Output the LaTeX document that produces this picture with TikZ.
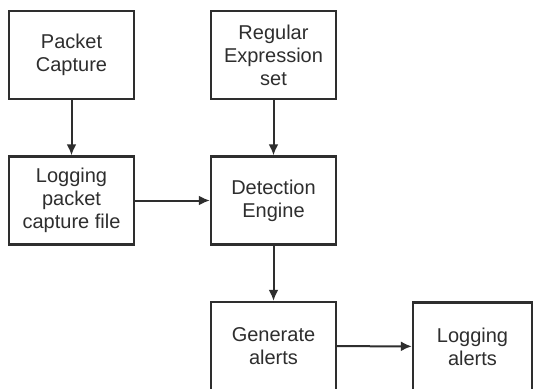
\documentclass[tikz,border=0pt]{standalone}
\usepackage{fontspec}
\setmainfont{Liberation Sans}
\usetikzlibrary{arrows.meta}
\definecolor{ink}{HTML}{2E2E2E}
\tikzset{
  stage/.style={draw=ink, line width=2.4pt, fill=white, text=ink,
    minimum width=125pt, minimum height=88pt, inner sep=0pt,
    align=center, font=\fontsize{20}{23}\selectfont},
  flow/.style={draw=ink, line width=2pt,
    -{Latex[length=11pt,width=10pt]}}
}
\begin{document}
\begin{tikzpicture}[x=1pt,y=1pt]
  \clip (0,0) rectangle (534,-388);
  \fill[white] (0,0) rectangle (534,-388);

  \node[stage] (capture) at (71.5,-55) {Packet\\Capture};
  \node[stage] (regex)   at (273.5,-55) {Regular\\Expression\\set};
  \node[stage] (logpkt)  at (71.5,-200.5) {Logging\\packet\\capture file};
  \node[stage] (detect)  at (273.5,-200.5) {Detection\\Engine};
  \node[stage] (alerts)  at (273.5,-346) {Generate\\alerts};
  \node[stage, minimum width=119pt] (logalert) at (472.5,-346.5) {Logging\\alerts};

  \draw[flow] (capture) -- (logpkt);
  \draw[flow] (regex) -- (detect);
  \draw[flow] (logpkt) -- (detect);
  \draw[flow] (detect) -- (alerts);
  \draw[flow] (alerts) -- (logalert);
\end{tikzpicture}
\end{document}
